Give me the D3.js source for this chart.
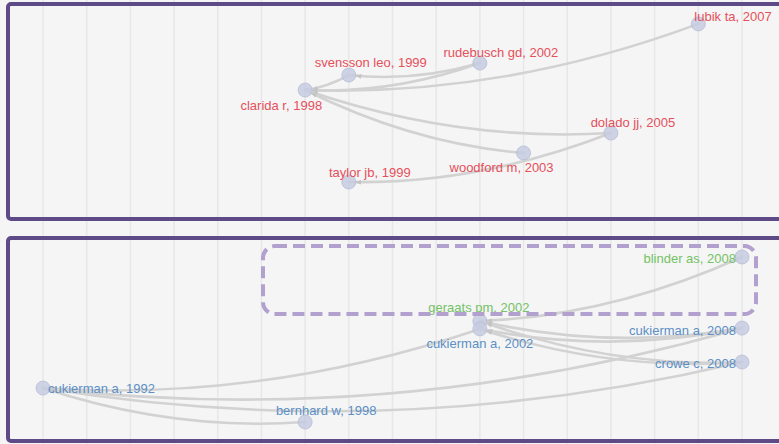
<!DOCTYPE html>
<html>
<head>
<meta charset="utf-8">
<script src="https://cdn.jsdelivr.net/npm/d3@7"></script>
<style>
html,body{margin:0;padding:0;background:#f5f5f5;}
svg{display:block;}
</style>
</head>
<body>
<svg id="chart" width="779" height="444"></svg>
<script>
// ---------- DATA ----------
const gridYears = [1991,1992,1993,1994,1995,1996,1997,1998,1999,2000,2001,2002,2003,2004,2005,2006,2007,2008,2009];

// Top panel (cluster 1, red)
const topNames  = ["clarida r","svensson leo","rudebusch gd","lubik ta","dolado jj","woodford m","taylor jb"];
const topYears  = [1998,1999,2002,2007,2005,2003,1999];
const topLayout = [40.2,33.2,27.6,9.3,60.3,69.6,83.2];   // vertical layout coordinate (0-100)
const topCluster= ["red","red","red","red","red","red","red"];
const topLinks  = [[1,0],[2,0],[3,0],[4,0],[5,0],[2,1],[4,6]]; // citing -> cited

// Bottom panel (clusters blue / green)
const botNames  = ["cukierman a","bernhard w","geraats pm","cukierman a","blinder as","cukierman a","crowe c"];
const botYears  = [1992,1998,2002,2002,2008,2008,2008];
const botLayout = [74.3,91.1,41.1,45.0,9.4,44.6,61.4];
const botCluster= ["blue","blue","green","blue","green","blue","blue"];
const botLinks  = [[1,0],[3,0],[5,0],[6,0],[4,2],[5,3],[6,3],[6,2],[5,2]];

// label placement per node: [anchor, dx, dy]
const topLabelPlace = [["end",17,20],["middle",22,-8],["middle",21,-6],["start",-4,-3],["middle",22,-6],["middle",-22,19],["middle",21,-5]];
const botLabelPlace = [["start",5,5],["middle",21,-7],["middle",-1,-9],["middle",0,19],["end",-6,6],["end",-6,7],["end",-6,6]];

// ---------- STYLE ----------
const clusterColor = {red:"#e5505b", blue:"#5b8fc6", green:"#74c266"};
const svg = d3.select("#chart");
const W = 779, H = 444;

const x = d3.scaleLinear().domain([1992,2008]).range([43,742]);
const yTop = d3.scaleLinear().domain([0,100]).range([4,218]);
const yBot = d3.scaleLinear().domain([0,100]).range([238,440]);

svg.append("rect").attr("width",W).attr("height",H).attr("fill","#f5f5f5");

// grid lines
svg.append("g").selectAll("line").data(gridYears).join("line")
  .attr("x1",d=>x(d)).attr("x2",d=>x(d)).attr("y1",0).attr("y2",H)
  .attr("stroke","#e7e7e7").attr("stroke-width",1.5);

// arrow marker
const defs = svg.append("defs");
defs.append("marker").attr("id","arr").attr("viewBox","0 0 10 10")
  .attr("markerUnits","userSpaceOnUse")
  .attr("refX",21).attr("refY",5).attr("markerWidth",6).attr("markerHeight",6)
  .attr("orient","auto")
  .append("path").attr("d","M0,1 L10,5 L0,9 z").attr("fill","#c4c4c4");

function drawPanel(names, years, layout, cluster, links, place, yS){
  const nodes = names.map((n,i)=>({name:n, year:years[i], x:x(years[i]), y:yS(layout[i]), c:cluster[i], p:place[i]}));
  const g = svg.append("g");
  g.append("g").selectAll("path").data(links).join("path")
    .attr("d",([s,t])=>{
      const a = nodes[s], b = nodes[t];
      const len = Math.hypot(b.x-a.x, b.y-a.y);
      const cx = (a.x+b.x)/2, cy = (a.y+b.y)/2 + 0.1*len;
      return `M${a.x},${a.y} Q${cx},${cy} ${b.x},${b.y}`;
    })
    .attr("fill","none").attr("stroke","#d2d2d2").attr("stroke-width",2.6)
    .attr("stroke-linecap","round")
    .attr("marker-end","url(#arr)");
  g.append("g").selectAll("circle").data(nodes).join("circle")
    .attr("cx",d=>d.x).attr("cy",d=>d.y).attr("r",7)
    .attr("fill","#c6cbe0").attr("fill-opacity",0.85)
    .attr("stroke","#b7bdd6").attr("stroke-width",0.8);
  g.append("g").selectAll("text").data(nodes).join("text")
    .attr("x",d=>d.x+d.p[1]).attr("y",d=>d.y+d.p[2])
    .attr("text-anchor",d=>d.p[0])
    .attr("font-family","'Liberation Sans', Arial, sans-serif")
    .attr("font-size",13)
    .attr("fill",d=>clusterColor[d.c])
    .text(d=>`${d.name}, ${d.year}`);
}

drawPanel(topNames, topYears, topLayout, topCluster, topLinks, topLabelPlace, yTop);
drawPanel(botNames, botYears, botLayout, botCluster, botLinks, botLabelPlace, yBot);

// highlight box (dashed)
svg.append("rect").attr("x",263).attr("y",246).attr("width",493).attr("height",68)
  .attr("rx",12).attr("ry",12).attr("fill","none")
  .attr("stroke","#b2a1cf").attr("stroke-width",4).attr("stroke-dasharray","12,6");

// panel frames
svg.append("rect").attr("x",8).attr("y",4).attr("width",W+10).attr("height",215)
  .attr("rx",3).attr("fill","none").attr("stroke","#5e4a86").attr("stroke-width",4);
svg.append("rect").attr("x",8).attr("y",238).attr("width",W+10).attr("height",203)
  .attr("rx",3).attr("fill","none").attr("stroke","#5e4a86").attr("stroke-width",4);
</script>
</body>
</html>
